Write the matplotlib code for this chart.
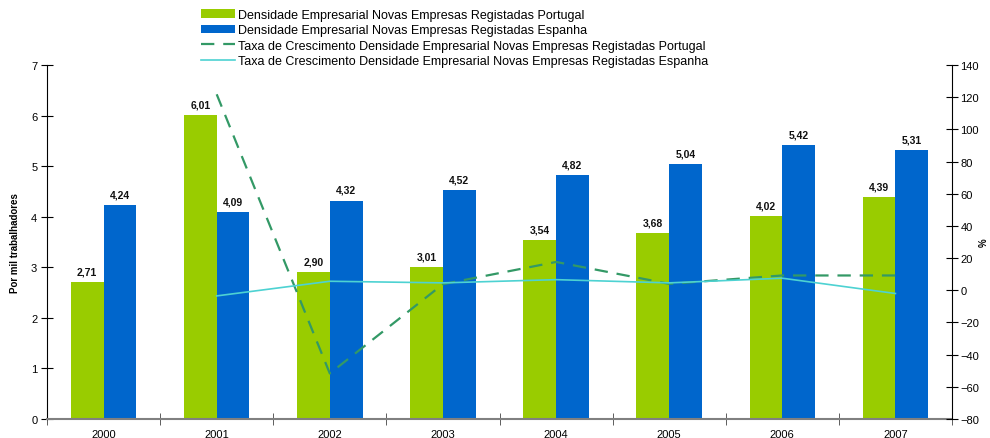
import matplotlib
matplotlib.use("Agg")
import matplotlib.pyplot as plt
import numpy as np

plt.rcParams['font.family'] = ['Liberation Sans', 'DejaVu Sans']

years = ['2000', '2001', '2002', '2003', '2004', '2005', '2006', '2007']
dens_pt = [2.71, 6.01, 2.90, 3.01, 3.54, 3.68, 4.02, 4.39]
dens_es = [4.24, 4.09, 4.32, 4.52, 4.82, 5.04, 5.42, 5.31]
tx_pt = [None, 121.8, -51.7, 3.8, 17.6, 4.0, 9.2, 9.2]
tx_es = [None, -3.5, 5.6, 4.6, 6.6, 4.6, 7.5, -2.0]

lab_dpt = 'Densidade Empresarial Novas Empresas Registadas Portugal'
lab_des = 'Densidade Empresarial Novas Empresas Registadas Espanha'
lab_tpt = 'Taxa de Crescimento Densidade Empresarial Novas Empresas Registadas Portugal'
lab_tes = 'Taxa de Crescimento Densidade Empresarial Novas Empresas Registadas Espanha'

green = '#99CC00'
blue = '#0066CC'
dgreen = '#339966'
cyan = '#4DD2D2'

fig = plt.figure(figsize=(9.9, 4.39), dpi=100)
ax = fig.add_axes([47/990, 19/439, (952-47)/990, (420-66)/439])
x = np.arange(len(years))
w = 0.29
b1 = ax.bar(x - w/2, dens_pt, w, color=green, label=lab_dpt, zorder=2)
b2 = ax.bar(x + w/2, dens_es, w, color=blue, label=lab_des, zorder=2)
for bars, vals in ((b1, dens_pt), (b2, dens_es)):
    for r, v in zip(bars, vals):
        ax.annotate(f'{v:.2f}'.replace('.', ','), (r.get_x() + r.get_width()/2, v),
                    xytext=(0, 4), textcoords='offset points', ha='center', va='bottom',
                    fontsize=7.5, fontweight='bold', color='#111111')

ax.set_xlim(-0.5, len(years) - 0.5)
ax.set_ylim(0, 7)
ax.set_yticks(range(0, 8))
ax.set_xticks(x)
ax.set_xticklabels(years)
ax.set_xticks(np.arange(-0.5, len(years)), minor=True)
ax.tick_params(axis='x', which='major', length=0, pad=7, labelsize=8)
ax.tick_params(axis='x', which='minor', length=8, direction='inout', color='#444444')
ax.tick_params(axis='y', length=8, direction='inout', labelsize=8, pad=3)
ax.spines['top'].set_visible(False)
ax.spines['right'].set_visible(False)
ax.spines['bottom'].set_color('#808080')
ax.spines['bottom'].set_linewidth(1.5)
ax.set_ylabel('Por mil trabalhadores', fontsize=7, fontweight='bold', labelpad=8)

ax2 = ax.twinx()
xs = x[1:]
l1, = ax2.plot(xs, tx_pt[1:], color=dgreen, linestyle=(0, (6, 4)), lw=1.6, label=lab_tpt)
l2, = ax2.plot(xs, tx_es[1:], color=cyan, lw=1.2, label=lab_tes)
ax2.set_ylim(-80, 140)
ax2.set_yticks(range(-80, 141, 20))
ax2.tick_params(axis='y', length=8, direction='inout', labelsize=8, pad=2)
ax2.spines['top'].set_visible(False)
ax2.spines['left'].set_visible(False)
ax2.spines['bottom'].set_visible(False)
ax2.set_ylabel('%', fontsize=7, fontweight='bold', labelpad=0)

fig.legend(handles=[b1, b2, l1, l2], loc='upper left', bbox_to_anchor=(201/990, 1 - 10/439),
           frameon=False, fontsize=9, handlelength=2.7, handletextpad=0.3,
           labelspacing=0.27, borderpad=0, borderaxespad=0)

fig.savefig('out.png', dpi=100)
